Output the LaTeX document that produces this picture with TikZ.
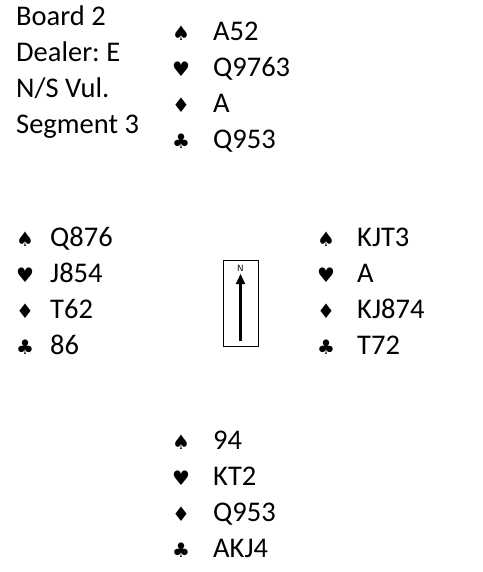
\documentclass[tikz,border=0pt]{standalone}
\usepackage{fontspec}
\setmainfont{Carlito}
\newfontfamily\symfont{DejaVu Sans}
\usetikzlibrary{arrows.meta}
\frenchspacing
\begin{document}
\begin{tikzpicture}[x=1pt,y=-1pt,
  txt/.style={anchor=base west, inner sep=0pt, font=\fontsize{28.5}{28.5}\selectfont},
  suit/.style={anchor=base, inner sep=0pt, font=\symfont\fontsize{20}{20}\selectfont},
  compass/.style={draw=black, line width=0.7pt, inner sep=0pt, minimum width=35pt, minimum height=86pt},
  needle/.style={line width=2.2pt, -{Triangle[length=10pt,width=9pt]}}]
\useasboundingbox (0,0) rectangle (482,572);
% info
\node[txt] (board) at (16,26) {Board 2};
\node[txt] (dealer) at (16,62) {Dealer: E};
\node[txt] (vul) at (16,98) {N/S Vul.};
\node[txt] (seg) at (16,134) {Segment 3};
% North
\node[suit] (ns) at (181,41) {♠}; \node[txt] (nst) at (213,41) {A52};
\node[suit] (nh) at (181,77) {♥}; \node[txt] (nht) at (213,77) {Q9763};
\node[suit] (nd) at (181,113) {♦}; \node[txt] (ndt) at (213,113) {A};
\node[suit] (nc) at (181,149) {♣}; \node[txt] (nct) at (213,149) {Q953};
% West
\node[suit] (ws) at (25,246) {♠}; \node[txt] (wst) at (50,246) {Q876};
\node[suit] (wh) at (25,282) {♥}; \node[txt] (wht) at (50,282) {J854};
\node[suit] (wd) at (25,318) {♦}; \node[txt] (wdt) at (50,318) {T62};
\node[suit] (wc) at (25,354) {♣}; \node[txt] (wct) at (50,354) {86};
% East
\node[suit] (es) at (326,246) {♠}; \node[txt] (est) at (357,246) {KJT3};
\node[suit] (eh) at (326,282) {♥}; \node[txt] (eht) at (357,282) {A};
\node[suit] (ed) at (326,318) {♦}; \node[txt] (edt) at (357,318) {KJ874};
\node[suit] (ec) at (326,354) {♣}; \node[txt] (ect) at (357,354) {T72};
% South
\node[suit] (ss) at (181,449) {♠}; \node[txt] (sst) at (213,449) {94};
\node[suit] (sh) at (181,485) {♥}; \node[txt] (sht) at (213,485) {KT2};
\node[suit] (sd) at (181,521) {♦}; \node[txt] (sdt) at (213,521) {Q953};
\node[suit] (sc) at (181,557) {♣}; \node[txt] (sct) at (213,557) {AKJ4};
% compass
\node[compass] (box) at (240.5,303) {};
\node[inner sep=0pt, font=\sffamily\fontsize{9}{9}\selectfont] (n) at (240.5,268) {N};
\coordinate (tail) at (240.5,341);
\coordinate (head) at (240.5,274);
\draw[needle] (tail) -- (head);
\end{tikzpicture}
\end{document}
